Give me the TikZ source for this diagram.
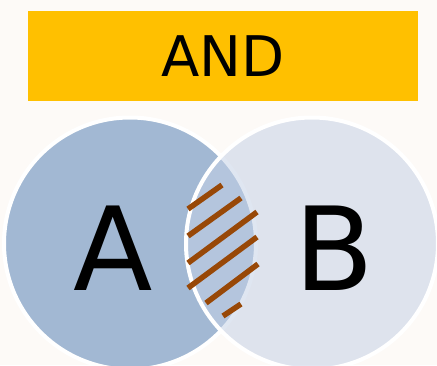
\documentclass[tikz,border=0pt]{standalone}
\usepackage{fontspec}
\setmainfont{DejaVu Sans}
\usetikzlibrary{calc}
\definecolor{paper}{HTML}{FDFAF7}
\definecolor{andgold}{HTML}{FFC000}
\definecolor{seta}{RGB}{162,184,211}
\definecolor{setb}{RGB}{197,209,230}
\definecolor{hatchbrown}{HTML}{984807}

\begin{document}
\begin{tikzpicture}[
 x=1pt,
 y=-1pt,
 banner/.style={fill=andgold,minimum width=390pt,minimum height=90pt,inner sep=0pt,font=\fontsize{56}{60}\selectfont},
 setcircle/.style={circle,draw=white,line width=4pt,minimum size=252pt,inner sep=0pt},
 letter/.style={inner sep=0pt,font=\fontsize{116}{120}\selectfont},
 hatch/.style={draw=hatchbrown,line width=5.5pt}
]
\fill [paper] (0,0) rectangle (437,365);
\useasboundingbox (0,0) rectangle (437,365);
\node (title) [banner] at (223,56) {AND};
\node (set-a) [setcircle,fill=seta] at (130,243.5) {};
\node (set-b) [setcircle,fill=setb,fill opacity=0.54] at (312,243.5) {};
\draw [hatch] (188,209) -- (222,185);
\draw [hatch] (188,236) -- (241,198);
\draw [hatch] (188,263) -- (257,212);
\draw [hatch] (188,288) -- (257,237);
\draw [hatch] (206,303) -- (258,264);
\draw [hatch] (223,316) -- (241,304);
\node (label-a) [letter] at ($(set-a.center)+(-16.5,4.5)$) {A};
\node (label-b) [letter] at ($(set-b.center)+(22,4.5)$) {B};
\end{tikzpicture}
\end{document}
